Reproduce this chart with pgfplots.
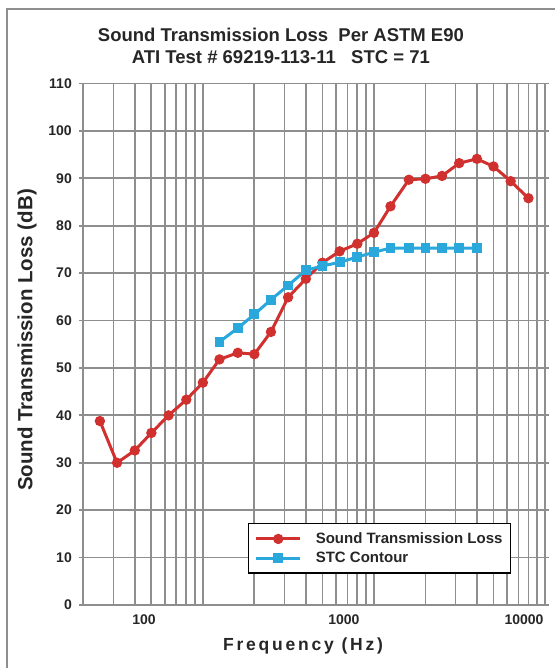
\documentclass[border=0pt]{standalone}
\usepackage{fontspec}
\setmainfont{Liberation Sans}
\usepackage{pgfplots}
\pgfplotsset{compat=1.18}

\definecolor{gridgray}{HTML}{8E8E8E}
\definecolor{stlred}{HTML}{D0312F}
\definecolor{stcblue}{HTML}{2AA8DC}

\begin{document}
\begin{tikzpicture}
	\useasboundingbox (-83.3pt,-63pt) rectangle (470.7pt,605pt);
	% partial frame round the chart
	\draw[gridgray, line width=1.4pt] (-76.3pt,-70pt) -- (-76.3pt,596pt) -- (480pt,596pt);
	\begin{axis}[
		scale only axis,
		width=461.7pt, height=521.5pt,
		xmode=log,
		xmin=20, xmax=10000,
		ymin=0, ymax=110,
		ytick={0,10,...,110},
		xtick={45.3,667.5,7535},
		xticklabels={100,1000,10000},
		minor xtick={30,40,50,60,70,80,90,100,200,300,400,500,600,700,800,900,1000,2000,3000,4000,5000,6000,7000,8000,9000},
		xminorgrids, ymajorgrids, xmajorgrids=false,
		grid style={gridgray, line width=1.8pt},
		minor grid style={gridgray, line width=1.8pt},
		major grid style={gridgray, line width=1.8pt},
		axis line style={gridgray, line width=1.8pt},
		tick align=outside,
		major tick length=4pt, minor tick length=0pt,
		ytick style={gridgray, line width=1.8pt},
		xtick style={draw=none},
		/pgf/number format/assume math mode=true,
		tick label style={font=\fontsize{14}{16}\selectfont\bfseries, text=black!85},
		yticklabel style={xshift=-4pt},
		xticklabel style={yshift=-2pt},
		xlabel={\addfontfeature{LetterSpace=16}Frequency (Hz)},
		xlabel style={at={(axis description cs:0.476,0)}, anchor=base, yshift=-45pt, font=\fontsize{17.5}{20}\selectfont\bfseries, text=black!85},
		ylabel={Sound Transmission Loss (dB)},
		ylabel style={at={(axis description cs:-0.122,0.508)}, anchor=center, rotate=0, font=\fontsize{20.5}{22}\selectfont\bfseries, text=black!85},
		legend style={at={(0.357,0.157)}, anchor=north west, draw=black, line width=1.3pt,
			font=\fontsize{15}{17}\selectfont\bfseries, text=black!85,
			inner xsep=6pt, inner ysep=7pt, row sep=3pt,
			/tikz/every odd column/.append style={column sep=12pt}},
		legend cell align=left,
		legend image code/.code={
			\draw[mark repeat=2, mark phase=2] plot coordinates {(0pt,0pt) (22pt,0pt) (44pt,0pt)};
		},
		clip=false,
	]
		\addplot[stlred, line width=3pt, mark=*, mark size=3.6pt] coordinates {
			(25,38.8) (31.5,30.0) (40,32.6) (50,36.3) (63,40.0) (80,43.3)
			(100,46.9) (125,51.8) (160,53.2) (200,52.9) (250,57.6) (315,64.9)
			(400,68.8) (500,72.2) (630,74.6) (800,76.2) (1000,78.5) (1250,84.1)
			(1600,89.7) (2000,89.9) (2500,90.5) (3150,93.2) (4000,94.1) (5000,92.5)
			(6300,89.4) (8000,85.8)
		};
		\addplot[stcblue, line width=3pt, mark=square*, mark size=3.4pt] coordinates {
			(125,55.5) (160,58.4) (200,61.3) (250,64.4) (315,67.4) (400,70.6)
			(500,71.5) (630,72.3) (800,73.4) (1000,74.4) (1250,75.3) (1600,75.3)
			(2000,75.3) (2500,75.3) (3150,75.3) (4000,75.3)
		};
		\legend{Sound Transmission Loss, STC Contour}
		\node[anchor=base, font=\fontsize{18.5}{20}\selectfont\bfseries, text=black!85, yshift=41.5pt]
			at (rel axis cs:0.428,1) {Sound Transmission Loss\ \ Per ASTM E90};
		\node[anchor=base, font=\fontsize{18.5}{20}\selectfont\bfseries, text=black!85, yshift=20pt]
			at (rel axis cs:0.428,1) {ATI Test \# 69219-113-11\ \ \ STC = 71};
	\end{axis}
\end{tikzpicture}
\end{document}
